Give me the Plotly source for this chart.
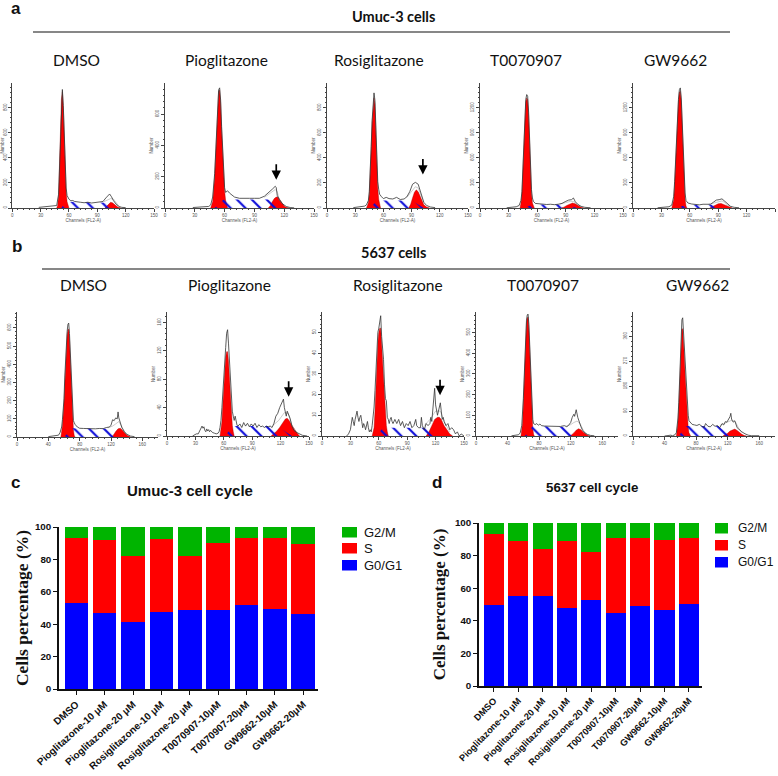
import plotly.graph_objects as go

# ---------- bar data ----------
BAR_LABELS = ["DMSO", "Pioglitazone-10 μM", "Pioglitazone-20 μM", "Rosiglitazone-10 μM", "Rosiglitazone-20 μM",
              "T0070907-10μM", "T0070907-20μM", "GW9662-10μM", "GW9662-20μM"]
UMUC_G0 = [53, 47, 41.5, 47.5, 49, 49, 52, 49.5, 46]
UMUC_S = [40, 45, 40.5, 45, 33.2, 41, 41, 44, 43.3]
UMUC_G2 = [7, 8, 18, 7.5, 17.8, 10, 7, 6.5, 10.7]
C5637_G0 = [49.5, 55, 55, 48, 53, 45, 49, 46.5, 50.5]
C5637_S = [43.5, 34, 29, 41, 29.5, 45.5, 42, 43, 40.5]
C5637_G2 = [7, 11, 16, 11, 17.5, 9.5, 9, 10.5, 9]
LEGEND_NAMES = ["G2/M", "S", "G0/G1"]

# ---------- histogram data: (channel, count) ----------
A1_TOTAL = [(28,5),(32,8),(40,10),(44,12),(47,20),(49,110),(50,330),(51,620),(52,880),(53,947),(54,820),(55,520),(56,300),(57,160),(58,100),(60,70),(62,58),(64,60),(66,52),(68,48),(72,46),(76,42),(80,46),(84,40),(88,42),(92,45),(96,52),(99,80),(101,95),(103,112),(105,90),(107,60),(110,30),(113,12),(116,5),(120,3)]
A1_G1 = [(47,0),(48,20),(49,100),(50,300),(51,610),(52,870),(53,930),(54,800),(55,500),(56,280),(57,130),(58,50),(59,15),(60,0)]
A1_G2 = [(98,0),(100,15),(102,35),(104,45),(106,42),(108,30),(110,15),(112,5),(115,0)]
A1_S = [(52,0),(56,50),(100,42),(106,15),(110,0)]
A1_FIT = [(96,47),(100,62),(104,75),(107,72),(110,38),(113,12)]

A2_TOTAL = [(28,3),(34,5),(40,6),(44,10),(46,20),(48,70),(50,220),(51,370),(52,560),(53,700),(54,755),(55,768),(56,690),(57,520),(58,360),(59,230),(60,130),(61,100),(62,107),(63,110),(65,95),(68,82),(70,70),(75,62),(80,64),(85,62),(90,62),(95,62),(100,75),(104,95),(108,120),(111,139),(112,130),(113,80),(115,55),(118,28),(122,10),(126,3),(130,1)]
A2_G1 = [(46,0),(48,40),(50,200),(51,350),(52,540),(53,690),(54,745),(55,755),(56,670),(57,500),(58,340),(59,210),(60,110),(61,50),(62,20),(63,0)]
A2_G2 = [(104,0),(106,15),(108,40),(110,60),(112,70),(114,68),(116,50),(118,28),(120,12),(122,4),(125,0)]
A2_S = [(50,0),(59,55),(105,55),(112,25),(118,0)]
A2_FIT = [(100,68),(104,85),(108,105),(111,118),(113,105),(115,55),(118,28)]

A3_TOTAL = [(28,3),(32,5),(36,10),(40,15),(42,25),(44,60),(45,130),(46,280),(47,490),(48,700),(49,870),(50,920),(51,860),(52,620),(53,360),(54,210),(55,150),(56,110),(58,90),(60,75),(63,85),(66,75),(70,72),(74,85),(78,68),(82,72),(85,90),(88,130),(91,190),(94,205),(97,190),(99,140),(101,80),(103,45),(106,20),(110,8),(115,3)]
A3_G1 = [(42,0),(44,40),(45,110),(46,260),(47,470),(48,680),(49,840),(50,880),(51,830),(52,600),(53,330),(54,160),(55,70),(56,25),(57,0)]
A3_G2 = [(87,0),(89,30),(91,80),(93,125),(95,145),(97,130),(99,95),(101,55),(103,25),(106,8),(109,0)]
A3_S = [(46,0),(53,60),(90,60),(97,30),(103,0)]
A3_FIT = [(85,85),(90,130),(94,170),(97,160),(100,105),(103,45)]

A4_TOTAL = [(28,3),(34,8),(38,15),(41,30),(43,90),(44,200),(45,450),(46,800),(47,1130),(48,1300),(49,1360),(50,1340),(51,1150),(52,780),(53,440),(54,220),(55,120),(56,80),(58,55),(62,50),(66,48),(70,42),(74,45),(78,40),(82,45),(86,55),(90,80),(93,95),(96,100),(98,120),(100,75),(103,40),(106,20),(110,8),(116,3)]
A4_G1 = [(42,0),(43,60),(44,170),(45,420),(46,770),(47,1100),(48,1270),(49,1320),(50,1300),(51,1110),(52,740),(53,390),(54,170),(55,60),(56,15),(57,0)]
A4_G2 = [(85,0),(88,10),(91,30),(94,50),(97,60),(100,50),(103,25),(106,8),(109,0)]
A4_S = [(46,0),(55,42),(88,42),(95,22),(102,0)]
A4_FIT = [(84,48),(90,65),(95,80),(98,78),(102,45),(106,15)]

A5_TOTAL = [(26,3),(30,8),(34,10),(38,15),(41,35),(43,140),(44,320),(45,600),(46,900),(47,1140),(48,1300),(49,1420),(50,1440),(51,1320),(52,1040),(53,700),(54,380),(55,180),(56,90),(58,60),(62,48),(66,40),(70,38),(74,45),(78,42),(82,45),(85,70),(88,95),(91,100),(94,110),(97,80),(100,45),(103,20),(107,8),(112,3)]
A5_G1 = [(41,0),(43,100),(44,280),(45,560),(46,860),(47,1100),(48,1280),(49,1390),(50,1400),(51,1280),(52,1000),(53,650),(54,320),(55,110),(56,25),(57,0)]
A5_G2 = [(81,0),(84,15),(87,35),(90,50),(93,55),(96,40),(99,22),(102,8),(105,0)]
A5_S = [(46,0),(56,40),(84,38),(92,18),(98,0)]
A5_FIT = [(80,44),(85,60),(90,80),(94,85),(97,65),(100,35),(104,12)]

B1_TOTAL = [(40,2),(46,4),(50,6),(53,10),(55,25),(57,55),(58,95),(60,210),(61,330),(62,430),(63,510),(64,580),(65,620),(66,627),(67,570),(68,470),(69,350),(70,240),(71,150),(72,90),(73,80),(74,70),(77,55),(80,48),(85,47),(90,45),(95,47),(100,45),(105,47),(110,46),(114,52),(118,55),(120,65),(122,95),(124,90),(126,105),(128,100),(129,138),(130,105),(132,70),(134,50),(137,30),(140,15),(145,5),(150,2)]
B1_G1 = [(56,0),(58,60),(60,190),(61,310),(62,410),(63,490),(64,560),(65,590),(66,595),(67,540),(68,440),(69,320),(70,200),(71,100),(72,40),(73,10),(74,0)]
B1_G2 = [(120,0),(123,10),(126,30),(129,45),(132,48),(135,35),(138,20),(141,8),(145,0)]
B1_S = [(60,0),(71,48),(118,45),(127,25),(135,0)]
B1_FIT = [(116,50),(122,60),(126,72),(130,85),(134,55),(138,22),(142,8)]

B2_TOTAL = [(27,0),(29,2),(31,3),(33,3),(35,8),(37,14),(38,11),(39,13),(40,8),(41,6),(42,10),(43,7),(44,9),(45,6),(46,8),(48,5),(50,4),(52,3),(54,4),(55,6),(56,12),(57,22),(58,40),(59,65),(60,90),(61,110),(62,125),(63,145),(64,150),(65,130),(66,105),(67,75),(68,50),(69,35),(70,28),(71,22),(72,28),(73,22),(74,15),(75,14),(77,17),(79,12),(81,19),(83,14),(85,18),(87,13),(89,17),(91,14),(93,18),(95,12),(97,16),(99,13),(101,14),(103,12),(105,14),(107,13),(109,14),(111,12),(113,18),(115,28),(117,32),(119,40),(121,45),(123,52),(124,40),(126,28),(127,35),(128,32),(130,25),(132,14),(134,8),(137,5),(140,3),(143,1),(148,0)]
B2_G1 = [(56,0),(58,20),(59,45),(60,70),(61,95),(62,112),(63,119),(64,119),(65,105),(66,82),(67,55),(68,32),(69,15),(70,6),(71,0)]
B2_G2 = [(110,0),(113,3),(116,7),(119,12),(122,18),(125,24),(127,25),(129,22),(132,15),(135,8),(138,3),(140,0)]
B2_S = [(61,0),(70,14),(111,14),(123,8),(132,0)]
B2_FIT = [(112,15),(118,22),(124,33),(128,32),(132,15),(136,6)]

B3_TOTAL = [(26,0),(28,1),(30,3),(31,6),(32,9),(33,7),(34,5),(35,8),(36,10),(37,12),(38,9),(39,7),(40,9),(41,10),(42,7),(43,4),(44,6),(45,5),(46,3),(47,6),(48,7),(49,4),(50,2),(51,3),(52,2),(53,5),(54,9),(55,14),(56,22),(57,33),(58,44),(59,50),(60,52),(61,57),(62,58),(63,48),(64,44),(65,37),(66,25),(67,18),(68,17),(69,9),(70,8),(71,6),(72,8),(73,9),(74,7),(75,6),(77,8),(79,6),(81,8),(83,5),(85,7),(87,4),(89,6),(91,5),(93,7),(95,4),(97,5),(99,8),(100,5),(102,4),(104,4),(105,9),(106,5),(108,3),(110,6),(112,5),(114,6),(115,9),(116,7),(117,12),(118,16),(119,23),(120,15),(121,11),(122,10),(123,12),(124,15),(125,16),(126,12),(127,8),(128,9),(129,7),(131,5),(133,6),(135,3),(137,4),(139,3),(141,1),(143,2),(145,0),(147,1),(150,0)]
B3_G1 = [(53,0),(55,4),(56,12),(57,24),(58,38),(59,45),(60,50),(61,52),(62,52),(63,44),(64,36),(65,28),(66,18),(67,10),(68,5),(69,2),(70,0)]
B3_G2 = [(110,0),(113,2),(116,5),(119,8),(122,9),(124,9),(126,8),(129,5),(132,3),(135,1),(138,0)]
B3_S = [(58,0),(64,4),(110,4),(118,2),(124,0)]
B3_FIT = [(108,5),(114,8),(120,12),(125,12),(130,6),(135,2)]

B4_TOTAL = [(45,1),(50,3),(54,6),(56,15),(58,50),(60,180),(61,290),(62,410),(63,500),(64,560),(65,585),(66,589),(67,540),(68,440),(69,330),(70,220),(71,130),(72,80),(73,60),(75,55),(77,60),(79,52),(81,58),(83,50),(87,48),(92,47),(97,46),(102,46),(107,46),(112,50),(115,45),(117,50),(120,65),(122,90),(124,105),(125,95),(127,127),(129,90),(131,65),(133,45),(135,28),(138,15),(141,8),(145,3),(150,1)]
B4_G1 = [(57,0),(59,60),(60,150),(61,260),(62,380),(63,480),(64,545),(65,570),(66,575),(67,520),(68,420),(69,300),(70,180),(71,90),(72,35),(73,8),(74,0)]
B4_G2 = [(118,0),(121,5),(124,15),(127,28),(130,35),(133,30),(136,18),(139,8),(142,2),(145,0)]
B4_S = [(62,0),(72,48),(116,44),(125,25),(133,0)]
B4_FIT = [(114,47),(120,55),(124,65),(128,72),(132,60),(136,28),(140,10)]

B5_TOTAL = [(40,0),(44,2),(48,3),(50,1),(53,4),(55,12),(56,30),(57,65),(58,120),(59,190),(60,290),(61,380),(62,420),(63,427),(64,370),(65,310),(66,260),(67,200),(68,140),(69,100),(70,75),(71,55),(73,48),(75,42),(78,40),(81,38),(84,42),(87,35),(90,30),(92,45),(95,35),(98,33),(101,42),(104,35),(107,38),(110,30),(113,45),(115,40),(117,52),(119,50),(121,60),(123,70),(124,82),(125,60),(127,50),(128,52),(129,55),(132,30),(135,22),(138,15),(142,8),(146,3),(150,1),(160,1)]
B5_G1 = [(55,0),(57,50),(58,105),(59,170),(60,265),(61,350),(62,385),(63,388),(64,350),(65,290),(66,230),(67,170),(68,110),(69,60),(70,30),(71,12),(73,0)]
B5_G2 = [(114,0),(117,4),(120,10),(123,18),(126,23),(129,25),(132,20),(135,12),(138,6),(141,2),(144,0)]
B5_S = [(58,0),(67,36),(108,36),(118,15),(125,0)]
B5_FIT = [(110,38),(116,46),(122,55),(126,58),(130,50),(134,28),(138,12)]

W, H = 778, 776
def px(x): return x / W
def py(y): return 1 - y / H

# (traces, left, right, baseline, top, xmax, xtick, ymax, ytick)
PANELS = [
    (A1_TOTAL, A1_G1, A1_G2, A1_S, A1_FIT, 12.3, 154, 208, 83, 150, 30, 999, 200),
    (A2_TOTAL, A2_G1, A2_G2, A2_S, A2_FIT, 165, 314, 208, 83, 150, 30, 799, 200),
    (A3_TOTAL, A3_G1, A3_G2, A3_S, A3_FIT, 327, 468, 208, 83, 150, 30, 999, 200),
    (A4_TOTAL, A4_G1, A4_G2, A4_S, A4_FIT, 480, 623, 208, 83, 150, 30, 1499, 300),
    (A5_TOTAL, A5_G1, A5_G2, A5_S, A5_FIT, 633, 775, 208, 83, 150, 30, 1499, 300),
    (B1_TOTAL, B1_G1, B1_G2, B1_S, B1_FIT, 17, 158, 437, 312, 180, 40, 688, 100),
    (B2_TOTAL, B2_G1, B2_G2, B2_S, B2_FIT, 167, 309, 436, 312, 150, 30, 175, 40),
    (B3_TOTAL, B3_G1, B3_G2, B3_S, B3_FIT, 322, 464, 436, 312, 150, 30, 59.8, 10),
    (B4_TOTAL, B4_G1, B4_G2, B4_S, B4_FIT, 476, 618, 436, 312, 180, 40, 599, 100),
    (B5_TOTAL, B5_G1, B5_G2, B5_S, B5_FIT, 633, 775, 436, 312, 180, 40, 448, 90),
]

fig = go.Figure()
layout = dict(width=W, height=H, autosize=False, margin=dict(l=0, r=0, t=0, b=0),
              template="none", paper_bgcolor="white", plot_bgcolor="rgba(0,0,0,0)",
              barmode="stack", bargap=0.17, showlegend=False)

AX = "#444444"
TICKF = dict(family="Liberation Sans", size=4.5, color="#555555")

def unzip(pairs):
    return [p[0] for p in pairs], [p[1] for p in pairs]

for i, (tot, g1, g2, s, fit, L, R, base, top, xm, xt, ym, yt) in enumerate(PANELS, start=1):
    xa, ya = f"x{i}", f"y{i}"
    for pts in (g1, g2):
        x, y = unzip(pts)
        fig.add_trace(go.Scatter(x=x, y=y, xaxis=xa, yaxis=ya, mode="lines", fill="toself",
                                 fillcolor="#ff0000", line=dict(width=0.4, color="#a00000"),
                                 hoverinfo="skip"))
    x, y = unzip(s)
    fig.add_trace(go.Scatter(x=x, y=y, xaxis=xa, yaxis=ya, mode="lines", fill="toself",
                             fillcolor="rgba(0,0,0,0)", line=dict(width=0),
                             fillpattern=dict(shape="\\", size=10.5, solidity=0.2, fgcolor="#0a0ad8",
                                              bgcolor="rgba(0,0,0,0)"),
                             hoverinfo="skip"))
    x, y = unzip(fit)
    fig.add_trace(go.Scatter(x=x, y=y, xaxis=xa, yaxis=ya, mode="lines",
                             line=dict(width=0.6, color="#aaaaaa"), hoverinfo="skip"))
    x, y = unzip(tot)
    fig.add_trace(go.Scatter(x=x, y=y, xaxis=xa, yaxis=ya, mode="lines",
                             line=dict(width=0.8, color="#333333"), hoverinfo="skip"))
    layout[f"xaxis{i}"] = dict(domain=[px(L), px(R)], range=[0, xm], anchor=ya, dtick=xt, tick0=0,
                               showgrid=False, zeroline=False, showline=True, linecolor=AX, linewidth=0.8,
                               ticks="outside", ticklen=3, tickwidth=0.6, tickcolor=AX, tickfont=TICKF,
                               minor=dict(dtick=xt / 5, ticks="outside", ticklen=1.5, tickwidth=0.5, tickcolor=AX),
                               title=dict(text="Channels (FL2-A)", font=TICKF, standoff=1))
    layout[f"yaxis{i}"] = dict(domain=[py(base), py(top)], range=[0, ym], anchor=xa, dtick=yt, tick0=0,
                               showgrid=False, zeroline=False, showline=True, linecolor=AX, linewidth=0.8,
                               ticks="outside", ticklen=3, tickwidth=0.6, tickcolor=AX, tickfont=TICKF, tickangle=-90,
                               minor=dict(dtick=yt / 5, ticks="outside", ticklen=1.5, tickwidth=0.5, tickcolor=AX),
                               title=dict(text="Number", font=TICKF, standoff=1))

# stacked bars
BAR_COLORS = {"G0/G1": "#0000ff", "S": "#ff0000", "G2/M": "#00b400"}
BARS = [(11, UMUC_G0, UMUC_S, UMUC_G2), (12, C5637_G0, C5637_S, C5637_G2)]
for idx, g0, s, g2 in BARS:
    for name, vals in (("G0/G1", g0), ("S", s), ("G2/M", g2)):
        fig.add_trace(go.Bar(x=BAR_LABELS, y=vals, name=name, marker=dict(color=BAR_COLORS[name], line=dict(width=0)),
                             xaxis=f"x{idx}", yaxis=f"y{idx}"))

BF = "Liberation Sans"
def bar_axes(idx, L, R, base, top, fs, xr, tsize, angle, standoff):
    layout[f"xaxis{idx}"] = dict(domain=[px(L), px(R)], anchor=f"y{idx}", range=xr, type="category",
                                 categoryorder="array", categoryarray=BAR_LABELS, tickangle=angle,
                                 showgrid=False, zeroline=False, showline=True, linecolor="#111111", linewidth=1.5,
                                 ticks="outside", ticklen=4, tickwidth=1.3, tickcolor="#111111",
                                 tickfont=dict(family=BF, size=fs, color="#111111", weight="bold"))
    layout[f"yaxis{idx}"] = dict(domain=[py(base), py(top)], anchor=f"x{idx}", range=[0, 100], dtick=20,
                                 showgrid=False, zeroline=False, showline=True, linecolor="#111111", linewidth=1.5,
                                 ticks="outside", ticklen=4, tickwidth=1.3, tickcolor="#111111",
                                 tickfont=dict(family=BF, size=9.8, color="#111111", weight="bold"),
                                 title=dict(text="<b>Cells percentage (%)</b>", standoff=standoff,
                                            font=dict(family="Liberation Serif", size=tsize, color="#111111")))

bar_axes(11, 59, 318, 689, 527, 10, [-0.61, 8.52], 17.5, -42, 2)
bar_axes(12, 479, 702, 686, 523, 9.3, [-0.61, 8.54], 17, -46, 5)

HEAD = "Lato"
ann = []
def text(x, y, t, family=HEAD, size=15.5, bold=False, color="#111111", anchor="center"):
    ann.append(dict(x=px(x), y=py(y), xref="paper", yref="paper", text=f"<b>{t}</b>" if bold else t,
                    showarrow=False, xanchor=anchor, yanchor="middle",
                    font=dict(family=family, size=size, color=color)))

text(16, 9, "a", BF, 17, True)
text(17, 246, "b", BF, 17, True)
text(16, 482, "c", BF, 17, True)
text(437, 482, "d", BF, 17, True)
text(393, 16, "Umuc-3 cells", HEAD, 14.5, True)
text(393, 253, "5637 cells", HEAD, 14.5, True)
for x, t in zip((76, 226, 379, 526, 675), ("DMSO", "Pioglitazone", "Rosiglitazone", "T0070907", "GW9662")):
    text(x, 60, t)
for x, t in zip((83, 230, 398, 543, 697), ("DMSO", "Pioglitazone", "Rosiglitazone", "T0070907", "GW9662")):
    text(x, 285, t)
text(190, 490, "Umuc-3 cell cycle", BF, 15, True)
text(592, 487, "5637 cell cycle", BF, 13.3, True)

# arrows point at the G2 peak of the treated samples
for ax_i, cx, cy in ((2, 112, 180), (3, 102, 267), (7, 128.5, 55.5), (8, 124.7, 19.7)):
    ann.append(dict(x=cx, y=cy, xref=f"x{ax_i}", yref=f"y{ax_i}", text="", showarrow=True, ax=0, ay=-17,
                    axref="pixel", ayref="pixel", arrowhead=2, arrowsize=1.1, arrowwidth=1.7, arrowcolor="black"))

shapes = [
    dict(type="line", xref="paper", yref="paper", x0=px(33), x1=px(730), y0=py(32), y1=py(32),
         line=dict(color="#111111", width=1.2)),
    dict(type="line", xref="paper", yref="paper", x0=px(42), x1=px(730), y0=py(269), y1=py(269),
         line=dict(color="#111111", width=1.2)),
]

# legends: (swatch left, swatch right, text left, font size, swatch tops, swatch height)
for sl, sr, tl, fs, tops, sh in ((342, 357, 362, 13, (527, 543, 560), 10.5), (715, 728, 736, 12, (523, 540, 557), 10.5)):
    for name, y0 in zip(LEGEND_NAMES, tops):
        shapes.append(dict(type="rect", xref="paper", yref="paper", x0=px(sl), x1=px(sr), y0=py(y0), y1=py(y0 + sh),
                           fillcolor=BAR_COLORS[name], line=dict(width=0)))
        text(tl, y0 + sh / 2, name, BF, fs, False, "#111111", "left")

layout["annotations"] = ann
layout["shapes"] = shapes
fig.update_layout(**layout)
fig.write_html("out.html", config=dict(displayModeBar=False),
               post_script="document.body.style.margin='0';document.body.style.overflow='hidden';")
